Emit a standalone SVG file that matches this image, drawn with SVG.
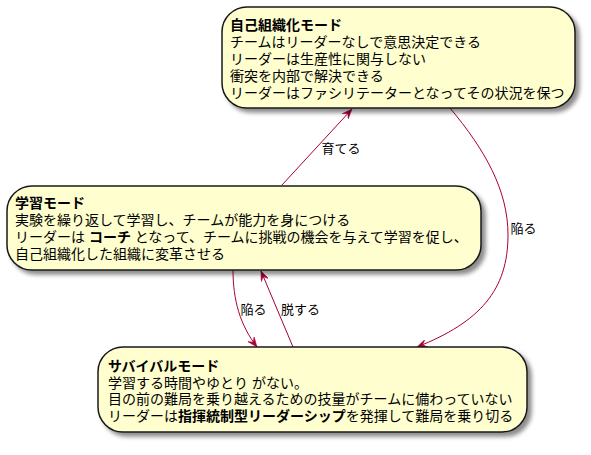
<svg xmlns="http://www.w3.org/2000/svg" width="591" height="455" viewBox="0 0 591 455">
<style>
.t{font-family:"Liberation Sans","Noto Sans CJK JP",sans-serif;font-size:14px;fill:#000}
.box{fill:#FEFECE;stroke:#181818;stroke-width:1.5;filter:url(#sh)}
.b{font-weight:bold}
.lbl{font-family:"Liberation Sans","Noto Sans CJK JP",sans-serif;font-size:13px;fill:#000}
.edge{fill:none;stroke:#A80036;stroke-width:1;marker-end:url(#ah)}
</style>
<defs>
<filter id="sh" x="-5%" y="-10%" width="115%" height="130%">
<feDropShadow dx="4" dy="4" stdDeviation="2" flood-color="#000" flood-opacity="0.45"/>
</filter>
<marker id="ah" viewBox="0 0 10 8" refX="10" refY="4" markerWidth="10" markerHeight="8" markerUnits="userSpaceOnUse" orient="auto">
<path d="M10,4 L0,0 L4,4 L0,8 Z" fill="#A80036" stroke="#A80036" stroke-width="0.5"/>
</marker>
</defs>
<rect width="591" height="455" fill="#FFFFFF"/>
<g id="edges">
<path class="edge" d="M282,185 L352,109"/>
<path class="edge" d="M450,108 C485,150 508,190 508,235 C508,290 480,322 417,347"/>
<path class="edge" d="M233,270 C233,300 240,325 257,347"/>
<path class="edge" d="M293,347 L261,271"/>
<text class="lbl" x="321.5" y="153">育てる</text>
<text class="lbl" x="510.5" y="232.5">陥る</text>
<text class="lbl" x="240.5" y="314">陥る</text>
<text class="lbl" x="281" y="314">脱する</text>
</g>
<g id="self-organizing">
<rect class="box" x="222" y="7" width="353" height="101" rx="25" ry="25"/>
<text class="t" x="230" y="30"><tspan class="b">自己組織化モード</tspan><tspan x="230" dy="17">チームはリーダーなしで意思決定できる</tspan><tspan x="230" dy="17">リーダーは生産性に関与しない</tspan><tspan x="230" dy="17">衝突を内部で解決できる</tspan><tspan x="230" dy="17">リーダーはファシリテーターとなってその状況を保つ</tspan></text>
</g>
<g id="learning">
<rect class="box" x="7" y="186" width="474" height="84" rx="25" ry="25"/>
<text class="t" x="15" y="208"><tspan class="b">学習モード</tspan><tspan x="15" dy="17">実験を繰り返して学習し、チームが能力を身につける</tspan><tspan x="15" dy="17">リーダーは <tspan class="b">コーチ</tspan> となって、チームに挑戦の機会を与えて学習を促し、</tspan><tspan x="15" dy="17">自己組織化した組織に変革させる</tspan></text>
</g>
<g id="survival">
<rect class="box" x="98" y="347" width="429" height="85" rx="25" ry="25"/>
<text class="t" x="108" y="371"><tspan class="b">サバイバルモード</tspan><tspan x="108" dy="16.7">学習する時間やゆとり がない。</tspan><tspan x="108" dy="16.7">目の前の難局を乗り越えるための技量がチームに備わっていない</tspan><tspan x="108" dy="16.7">リーダーは<tspan class="b">指揮統制型リーダーシップ</tspan>を発揮して難局を乗り切る</tspan></text>
</g>
</svg>
